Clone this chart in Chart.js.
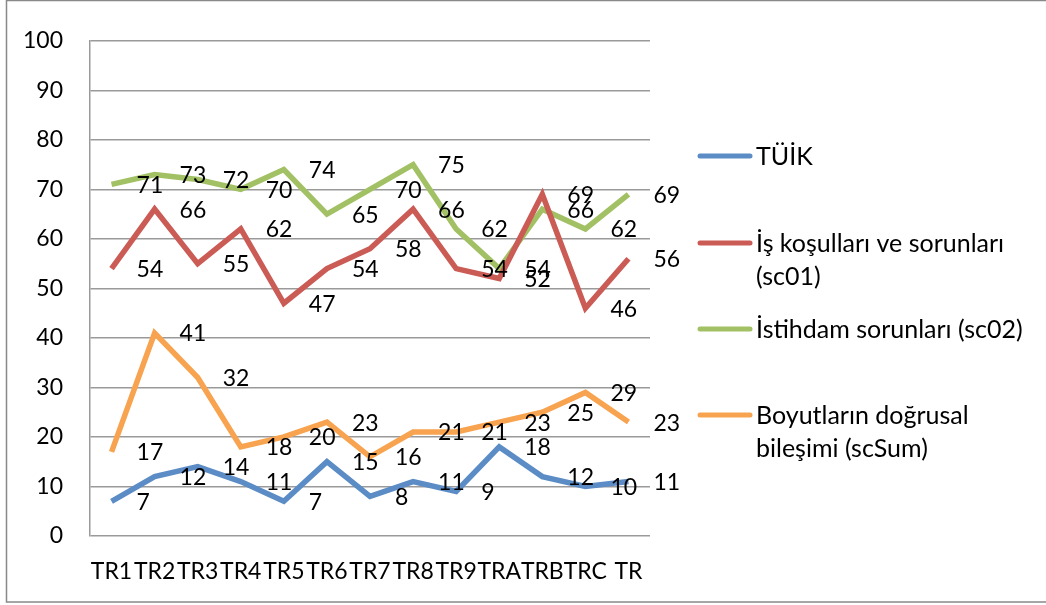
<!DOCTYPE html>
<html>
<head>
<meta charset="utf-8">
<script src="https://cdn.jsdelivr.net/npm/chart.js@4"></script>
<style>
  html, body { margin: 0; padding: 0; background: #fff; }
  #wrap { width: 1046px; height: 605px; position: relative; }
</style>
</head>
<body>
<div id="wrap"><canvas id="lineChart"></canvas></div>
<script>
const categories = ['TR1', 'TR2', 'TR3', 'TR4', 'TR5', 'TR6', 'TR7', 'TR8', 'TR9', 'TRA', 'TRB', 'TRC', 'TR'];
const tuik  = [7, 12, 14, 11, 7, 15, 8, 11, 9, 18, 12, 10, 11];
const sc01  = [54, 66, 55, 62, 47, 54, 58, 66, 54, 52, 69, 46, 56];
const sc02  = [71, 73, 72, 70, 74, 65, 70, 75, 62, 54, 66, 62, 69];
const scSum = [17, 41, 32, 18, 20, 23, 16, 21, 21, 23, 25, 29, 23];
const seriesNames = [['TÜİK'], ['İş koşulları ve sorunları', '(sc01)'], ['İstihdam sorunları (sc02)'], ['Boyutların doğrusal', 'bileşimi (scSum)']];
const yTicks = [0, 10, 20, 30, 40, 50, 60, 70, 80, 90, 100];

const FONT = 'Lato, "Open Sans", sans-serif';

// frame round the whole picture
const framePlugin = {
  id: 'frame',
  beforeDraw(chart) {
    const c = chart.ctx;
    c.save();
    c.strokeStyle = '#898989';
    c.lineWidth = 1.5;
    c.strokeRect(6.5, 0.5, 1050, 601.5);
    c.restore();
  }
};

// value labels to the right of each point
const valueLabels = {
  id: 'valueLabels',
  afterDatasetsDraw(chart) {
    const c = chart.ctx;
    c.save();
    c.font = '23px ' + FONT;
    c.fillStyle = '#000';
    c.textAlign = 'left';
    c.textBaseline = 'middle';
    chart.data.datasets.forEach((ds, i) => {
      chart.getDatasetMeta(i).data.forEach((pt, j) => {
        c.fillText(String(ds.data[j]), pt.x + 25, pt.y + 1);
      });
    });
    c.restore();
  }
};

// legend on the right, with wrapped names
const sideLegend = {
  id: 'sideLegend',
  afterDraw(chart) {
    const c = chart.ctx;
    const rows = [156, 243, 329, 415];
    c.save();
    c.font = '25px ' + FONT;
    c.textBaseline = 'middle';
    c.textAlign = 'left';
    chart.data.datasets.forEach((ds, i) => {
      const y = rows[i];
      c.strokeStyle = ds.borderColor;
      c.lineWidth = 5;
      c.lineCap = 'round';
      c.beginPath();
      c.moveTo(700, y);
      c.lineTo(750, y);
      c.stroke();
      c.fillStyle = '#000';
      seriesNames[i].forEach((line, k) => {
        c.fillText(line, 756, y + 1 + k * 33);
      });
    });
    c.restore();
  }
};

const ctx = document.getElementById('lineChart').getContext('2d');
const lineChart = new Chart(ctx, {
  type: 'line',
  data: {
    labels: categories,
    datasets: [
      { label: seriesNames[0].join(' '), data: tuik,  borderColor: '#5b8cc6' },
      { label: seriesNames[1].join(' '), data: sc01,  borderColor: '#cb5b55' },
      { label: seriesNames[2].join(' '), data: sc02,  borderColor: '#a2c164' },
      { label: seriesNames[3].join(' '), data: scSum, borderColor: '#f8a34f' }
    ].map(d => Object.assign(d, {
      borderWidth: 5.5,
      pointRadius: 0,
      pointHoverRadius: 0,
      tension: 0,
      fill: false,
      borderJoinStyle: 'miter'
    }))
  },
  options: {
    responsive: true,
    maintainAspectRatio: false,
    animation: false,
    layout: { padding: { top: 36, right: 396, left: 0, bottom: 0 } },
    plugins: {
      legend: { display: false },
      tooltip: { enabled: false }
    },
    scales: {
      x: {
        offset: true,
        grid: { display: false, drawTicks: false },
        border: { display: false },
        ticks: {
          autoSkip: false,
          maxRotation: 0,
          minRotation: 0,
          padding: 22,
          color: '#000',
          font: { family: FONT, size: 23 }
        },
        afterFit(scale) { scale.height = 69; }
      },
      y: {
        min: 0,
        max: 100,
        afterBuildTicks(scale) { scale.ticks = yTicks.map(v => ({ value: v })); },
        grid: { color: '#9a9a9a', lineWidth: 1.5, drawTicks: false },
        border: { display: true, color: '#9a9a9a', width: 1.5 },
        ticks: {
          padding: 27,
          color: '#000',
          font: { family: FONT, size: 23 }
        },
        afterFit(scale) { scale.width = 90; }
      }
    }
  },
  plugins: [framePlugin, valueLabels, sideLegend]
});
</script>
</body>
</html>
